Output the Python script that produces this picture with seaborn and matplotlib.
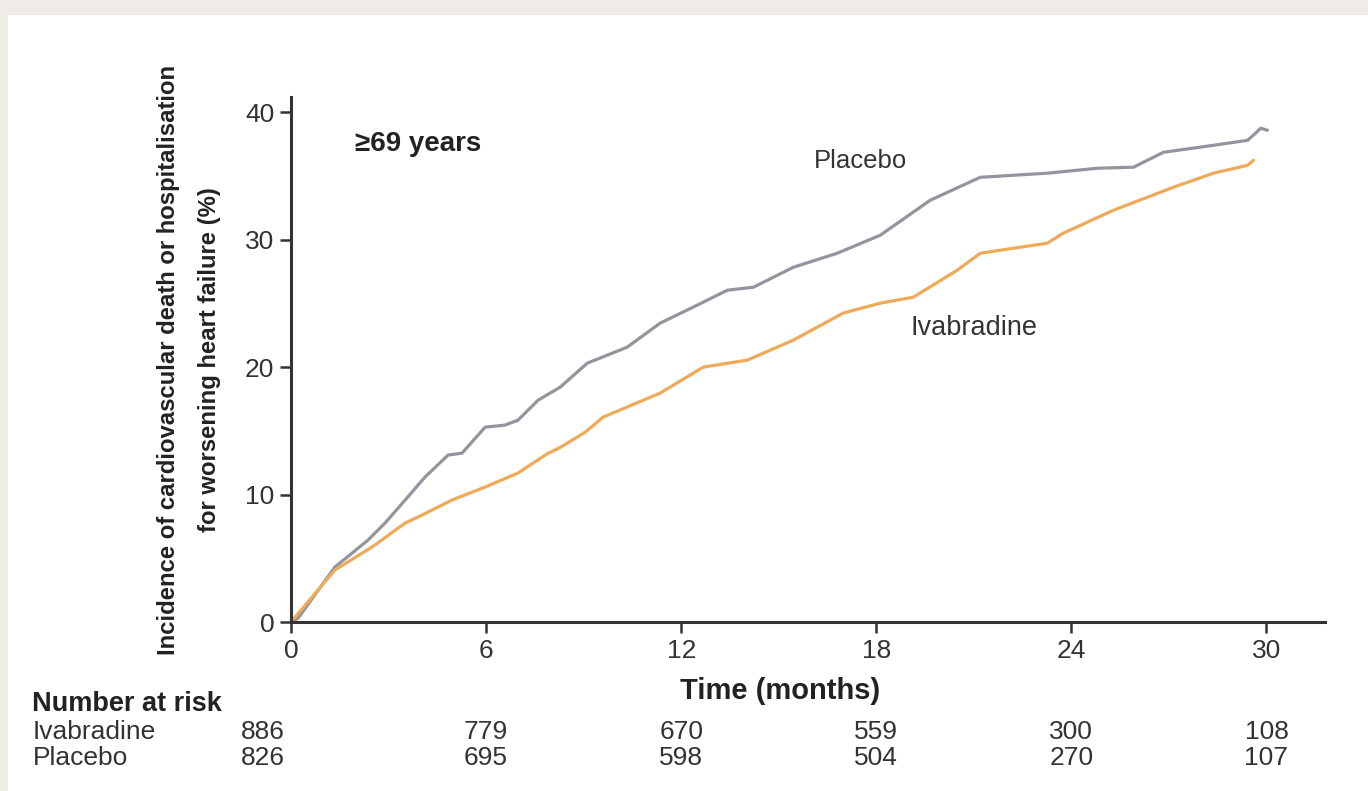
import matplotlib
matplotlib.use("Agg")
import matplotlib.pyplot as plt
import matplotlib.patches as mpatches
import seaborn as sns
import pandas as pd

# ---- data ----
placebo_t = [0, 0.22, 1.35, 2.37, 2.89, 3.51, 4.12, 4.83, 5.26, 5.97, 6.58, 6.98, 7.60,
             8.28, 9.11, 10.34, 11.35, 12.37, 13.42, 14.22, 15.45, 16.80, 18.12, 19.66,
             21.20, 23.26, 24.80, 25.91, 26.83, 28.37, 29.42, 29.66, 29.82, 30.03]
placebo_y = [0, 0.31, 4.31, 6.43, 7.76, 9.57, 11.37, 13.10, 13.25, 15.29, 15.45, 15.84, 17.41,
             18.43, 20.31, 21.57, 23.45, 24.71, 26.04, 26.27, 27.84, 28.94, 30.35, 33.10,
             34.90, 35.22, 35.61, 35.69, 36.86, 37.41, 37.80, 38.35, 38.75, 38.59]
ivab_t = [0, 1.35, 2.49, 3.51, 3.91, 4.95, 5.97, 6.98, 7.88, 8.28, 9.05, 9.60, 11.35,
          12.68, 14.03, 15.45, 16.98, 18.12, 19.14, 20.49, 21.20, 23.26, 23.75, 25.29,
          27.14, 28.37, 29.42, 29.60]
ivab_y = [0, 4.08, 5.88, 7.76, 8.24, 9.57, 10.59, 11.69, 13.2, 13.7, 14.90, 16.08, 17.96,
          20.0, 20.55, 22.12, 24.24, 25.02, 25.49, 27.61, 28.94, 29.73, 30.51, 32.31,
          34.12, 35.22, 35.84, 36.24]

risk_months = [0, 6, 12, 18, 24, 30]
risk_ivab = [886, 779, 670, 559, 300, 108]
risk_placebo = [826, 695, 598, 504, 270, 107]
x_ticks = [0, 6, 12, 18, 24, 30]
y_ticks = [0, 10, 20, 30, 40]

sns.set_theme(style="white")
FONT = ["Liberation Sans Narrow", "Liberation Sans", "DejaVu Sans"]
plt.rcParams["font.family"] = FONT

fig = plt.figure(figsize=(13.68, 7.91), dpi=100, facecolor="#efebe6")
fig.patches.append(mpatches.Rectangle((8 / 1368, 0), 1 - 8 / 1368, 1 - 15 / 791,
                                      transform=fig.transFigure, facecolor="white",
                                      edgecolor="none", zorder=-10))
ax = fig.add_axes([291 / 1368, 1 - 622 / 791, (1325 - 291) / 1368, (622 - 97) / 791])
ax.set_facecolor("none")
ax.set_zorder(5)

df = pd.concat([
    pd.DataFrame({"t": placebo_t, "y": placebo_y, "arm": "Placebo"}),
    pd.DataFrame({"t": ivab_t, "y": ivab_y, "arm": "Ivabradine"}),
])
sns.lineplot(data=df, x="t", y="y", hue="arm", estimator=None, sort=False,
             palette={"Placebo": "#94949e", "Ivabradine": "#eeaa58"},
             linewidth=2.3, legend=False, ax=ax)

ax.set_xlim(0, 31.8)
ax.set_ylim(0, 41.2)
ax.set_xticks(x_ticks)
ax.set_yticks(y_ticks)
ax.tick_params(axis="both", which="major", direction="out", length=8, width=1.8,
               colors="#333333", labelsize=19, labelcolor="#333333", pad=4,
               left=True, bottom=True)
for s in ["top", "right"]:
    ax.spines[s].set_visible(False)
for s in ["left", "bottom"]:
    ax.spines[s].set_color("#333333")
    ax.spines[s].set_linewidth(2.2)

ax.set_xlabel("Time (months)", fontsize=21, fontweight="bold", color="#222222")
ax.xaxis.set_label_coords(0.473, -0.104)
ax.set_ylabel("Incidence of cardiovascular death or hospitalisation\nfor worsening heart failure (%)",
              fontsize=17.2, fontweight="bold", color="#222222", linespacing=2.0)
ax.yaxis.set_label_coords(-0.0677, 0.5)

ax.text(1.97, 37.5, "≥69 years", fontsize=20, fontweight="bold", color="#222222",
        ha="left", va="center", family=FONT)
ax.text(17.5, 36.2, "Placebo", fontsize=18.5, color="#333333", ha="center", va="center")
ax.text(21.0, 23.1, "Ivabradine", fontsize=19.5, color="#333333", ha="center", va="center")

# number at risk table
ax.text(-7.95, -6.45, "Number at risk", fontsize=19.5, fontweight="bold", color="#222222",
        ha="left", va="center", clip_on=False)
ax.text(-7.95, -8.65, "Ivabradine", fontsize=19, color="#333333", ha="left", va="center", clip_on=False)
ax.text(-7.95, -10.7, "Placebo", fontsize=19, color="#333333", ha="left", va="center", clip_on=False)
for m, a, b in zip(risk_months, risk_ivab, risk_placebo):
    ha = "right" if m == 0 else "center"
    xx = m - 0.2 if m == 0 else m
    ax.text(xx, -8.65, str(a), fontsize=19, color="#333333", ha=ha, va="center", clip_on=False)
    ax.text(xx, -10.7, str(b), fontsize=19, color="#333333", ha=ha, va="center", clip_on=False)

fig.savefig("out.png", dpi=100, facecolor=fig.get_facecolor())
